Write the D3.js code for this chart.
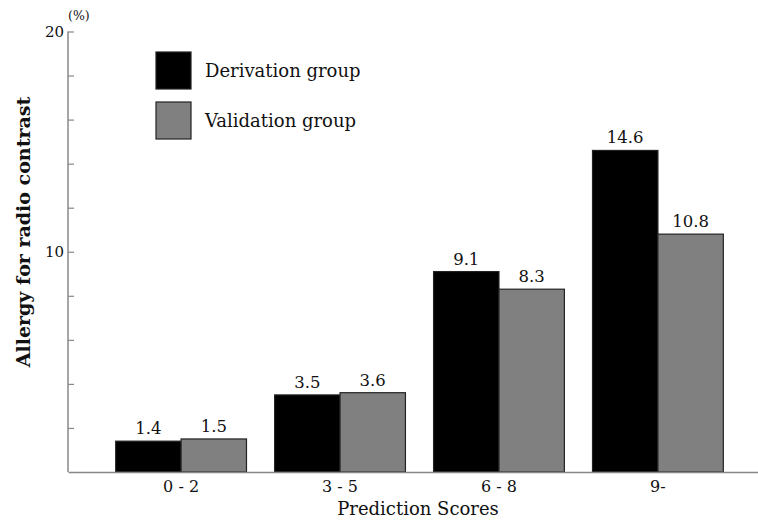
<!DOCTYPE html>
<html>
<head>
<meta charset="utf-8">
<script src="https://cdn.jsdelivr.net/npm/d3@7"></script>
<style>
  body { margin: 0; background: #fff; }
  text { font-family: "DejaVu Serif", serif; fill: #111; }
</style>
</head>
<body>
<div class="chart"></div>
<script>
// Data
const categories = ["0 - 2", "3 - 5", "6 - 8", "9-"];
const seriesNames = ["Derivation group", "Validation group"];
const derivation = [1.4, 3.5, 9.1, 14.6];
const validation = [1.5, 3.6, 8.3, 10.8];
const yTicks = [2, 4, 6, 8, 10, 12, 14, 16, 18, 20];
const yLabels = [10, 20];

const W = 758, H = 521;
const colors = ["#000000", "#808080"];

const svg = d3.select(".chart").append("svg")
    .attr("width", W)
    .attr("height", H);

// Scales
const x = d3.scaleBand().domain(categories).range([68, 771])
    .paddingInner(0.177).paddingOuter(0.3);
const xSub = d3.scaleBand().domain(seriesNames).range([0, x.bandwidth()]);
const y = d3.scaleLinear().domain([0, 20]).range([472, 31.5]);

const rows = categories.map((c, i) => ({ cat: c, vals: [derivation[i], validation[i]] }));

// bars
const grp = svg.selectAll(".grp")
    .data(rows)
    .enter().append("g")
    .attr("transform", d => "translate(" + x(d.cat) + ",0)");

grp.selectAll("rect")
    .data(d => d.vals.map((v, k) => ({ name: seriesNames[k], v: v, k: k })))
    .enter().append("rect")
    .attr("x", d => xSub(d.name))
    .attr("y", d => y(d.v))
    .attr("width", xSub.bandwidth())
    .attr("height", d => y(0) - y(d.v))
    .style("fill", d => colors[d.k])
    .style("stroke", "#222")
    .style("stroke-width", 1.2);

grp.selectAll(".val")
    .data(d => d.vals.map((v, k) => ({ name: seriesNames[k], v: v, k: k })))
    .enter().append("text")
    .attr("x", d => xSub(d.name) + xSub.bandwidth() / 2)
    .attr("y", d => y(d.v) - 7)
    .attr("text-anchor", "middle")
    .style("font-size", "16.5px")
    .text(d => d.v.toFixed(1));

// y axis
const yAxis = svg.append("g")
    .attr("transform", "translate(68,0)")
    .call(d3.axisLeft(y).tickValues(yTicks).tickSize(-6).tickFormat(""));
yAxis.select(".domain").attr("stroke", "#888").attr("stroke-width", 1.5).attr("d", "M0," + y(20) + "V" + y(0));
yAxis.selectAll(".tick line").attr("stroke", "#888").attr("stroke-width", 1.2);

svg.selectAll(".ylab")
    .data(yLabels)
    .enter().append("text")
    .attr("x", 64)
    .attr("y", d => y(d) + 5)
    .attr("text-anchor", "end")
    .style("font-size", "15px")
    .text(d => d);

svg.append("text")
    .attr("x", 68)
    .attr("y", 20)
    .style("font-size", "12.5px")
    .text("(%)");

// x axis
const xAxis = svg.append("g")
    .attr("transform", "translate(0," + y(0) + ")")
    .call(d3.axisBottom(x).tickSize(0).tickPadding(9));
xAxis.select(".domain").attr("stroke", "#888").attr("stroke-width", 1.5);
xAxis.selectAll("text")
    .style("font-family", "DejaVu Serif")
    .style("font-size", "16px")
    .attr("fill", "#111");

// titles
svg.append("text")
    .attr("x", 418)
    .attr("y", 515)
    .attr("text-anchor", "middle")
    .style("font-size", "18px")
    .text("Prediction Scores");

svg.append("text")
    .attr("transform", "translate(30,232) rotate(-90)")
    .attr("text-anchor", "middle")
    .style("font-size", "19px")
    .style("font-weight", "bold")
    .text("Allergy for radio contrast");

// legend
const legend = svg.selectAll(".legend")
    .data(seriesNames)
    .enter().append("g")
    .attr("class", "legend")
    .attr("transform", (d, i) => "translate(156," + (52 + i * 50) + ")");

legend.append("rect")
    .attr("width", 35)
    .attr("height", 37)
    .style("fill", (d, i) => colors[i])
    .style("stroke", "#222")
    .style("stroke-width", 1.2);

legend.append("text")
    .attr("x", 49)
    .attr("y", 25)
    .style("font-size", "18px")
    .text(d => d);
</script>
</body>
</html>
